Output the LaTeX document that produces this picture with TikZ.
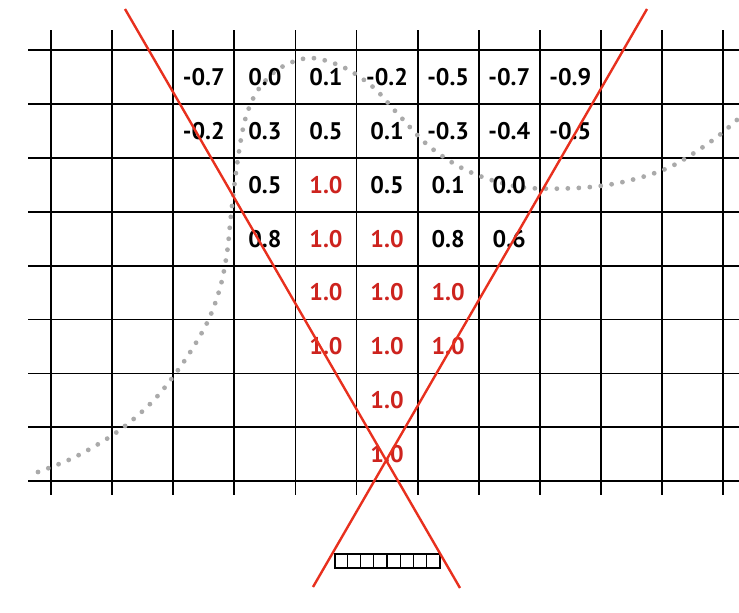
\documentclass[tikz,border=0pt]{standalone}
\usepackage{fontspec}
\setmainfont{PT Sans}
\usetikzlibrary{calc}
\definecolor{frustum}{RGB}{232,48,30}
\definecolor{hot}{RGB}{205,35,30}
\definecolor{dotgray}{RGB}{170,170,170}
\tikzset{
  gridline/.style={line width=1.8pt, black},
  numk/.style={font=\fontsize{24}{26}\selectfont\bfseries, text=black, inner sep=0pt},
  numr/.style={numk, text=hot},
  rayline/.style={line width=2.4pt, frustum},
  surf/.style={dotgray, line width=4.8pt, line cap=round, dash pattern=on 0pt off 11pt},
  cambox/.style={draw=black, line width=1.1pt, minimum width=105pt, minimum height=14pt, inner sep=0pt},
}
\begin{document}
\begin{tikzpicture}[x=1pt,y=-1pt]
\useasboundingbox (0,0) rectangle (739,613);
\fill[white] (0,0) rectangle (739,613);
% grid
\foreach \i in {0,...,11} \draw[gridline] ({51+61.1*\i},30) -- ({51+61.1*\i},495);
\foreach \j in {0,...,8} \draw[gridline] (28,{50+53.9*\j}) -- (739,{50+53.9*\j});
% dotted surface curve
\draw[surf] plot[smooth, tension=0.55] coordinates {
 (38,472) (75,457) (117,432) (153,401) (183,363) (207,323) (220,288) (227,253)
 (231,215) (237,165) (245,120) (258,90) (280,68) (310,58) (343,67) (373,87)
 (397,113) (430,147) (470,172) (520,187) (577,188) (623,182) (670,167) (713,140) (739,118)};
% values
\foreach \r/\c/\v/\s in {
 0/2/-0.7/numk, 0/3/0.0/numk, 0/4/0.1/numk, 0/5/-0.2/numk, 0/6/-0.5/numk, 0/7/-0.7/numk, 0/8/-0.9/numk,
 1/2/-0.2/numk, 1/3/0.3/numk, 1/4/0.5/numk, 1/5/0.1/numk, 1/6/-0.3/numk, 1/7/-0.4/numk, 1/8/-0.5/numk,
 2/3/0.5/numk, 2/4/1.0/numr, 2/5/0.5/numk, 2/6/0.1/numk, 2/7/0.0/numk,
 3/3/0.8/numk, 3/4/1.0/numr, 3/5/1.0/numr, 3/6/0.8/numk, 3/7/0.6/numk,
 4/4/1.0/numr, 4/5/1.0/numr, 4/6/1.0/numr,
 5/4/1.0/numr, 5/5/1.0/numr, 5/6/1.0/numr,
 6/5/1.0/numr,
 7/5/1.0/numr}
 \node[\s] (n-\r-\c) at ({51+61.1*(\c+0.5)},{50+53.9*(\r+0.5)}) {\v};
% camera
\node[cambox] (cam) at (387.5,561) {};
\foreach \k in {1,...,7} \draw[line width=1.1pt] ($(cam.north west)+(13.125*\k,0)$) -- ($(cam.south west)+(13.125*\k,0)$);
% frustum rays
\coordinate (lt) at (125,9);
\coordinate (rt) at (647,9);
\coordinate (lb) at (313,587);
\coordinate (rb) at (460,588);
\draw[rayline] (lt) -- (rb);
\draw[rayline] (rt) -- (lb);
\end{tikzpicture}
\end{document}
